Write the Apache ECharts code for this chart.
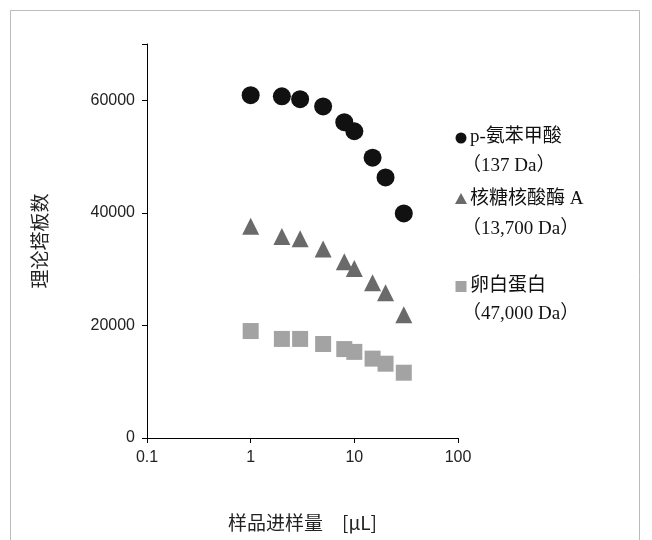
<!DOCTYPE html>
<html><head><meta charset="utf-8">
<script src="https://cdn.jsdelivr.net/npm/echarts@6/dist/echarts.min.js"></script>
<style>body{margin:0;background:#fff}#main{width:652px;height:540px}</style>
</head><body><div id="main"></div>
<script>
// 样品进样量 (μL)
const volumes = [1, 2, 3, 5, 8, 10, 15, 20, 30]
const aminobenzoic = [60900, 60700, 60200, 58900, 56100, 54500, 49800, 46300, 39900]
const ribonuclease = [37600, 35800, 35400, 33600, 31300, 30100, 27600, 25800, 21900]
const ovalbumin = [19000, 17600, 17600, 16700, 15800, 15300, 14100, 13200, 11600]

const pairs = arr => volumes.map((v, i) => [v, arr[i]])
const font = '"Noto Sans CJK SC", sans-serif'
const serif = '"Liberation Serif", "Noto Sans CJK SC", serif'
const legendText = (y, text, x) => ({ type: 'text', left: x || 470, top: y - 8,
  style: { text: text, fontSize: 19, fontFamily: serif, fill: '#111' } })

let myChart = echarts.init(document.getElementById('main'))
myChart.setOption({
  animation: false,
  grid: { left: 147, right: 194, top: 44, bottom: 102 },
  xAxis: {
    type: 'log', min: 0.1, max: 100, logBase: 10,
    axisLine: { lineStyle: { color: '#000' } },
    axisTick: { length: 5, lineStyle: { color: '#000' } },
    axisLabel: { color: '#222', fontSize: 16, fontFamily: 'Liberation Sans', margin: 12 },
    splitLine: { show: false },
    name: '样品进样量　[μL]', nameLocation: 'middle', nameGap: 75,
    nameTextStyle: { color: '#222', fontSize: 19, fontFamily: font }
  },
  yAxis: {
    type: 'value', min: 0, max: 70000, interval: 20000,
    axisLine: { show: true, lineStyle: { color: '#000' } },
    axisTick: { show: true, length: 5, lineStyle: { color: '#000' } },
    axisLabel: { color: '#222', fontSize: 16, fontFamily: 'Liberation Sans', margin: 12,
      formatter: v => v > 60000 ? '' : v },
    splitLine: { show: false },
    name: '理论塔板数', nameLocation: 'middle', nameGap: 98,
    nameTextStyle: { color: '#222', fontSize: 19, fontFamily: font }
  },
  series: [
    { type: 'scatter', data: pairs(aminobenzoic), symbol: 'circle', symbolSize: 18,
      itemStyle: { color: '#111', opacity: 1 } },
    { type: 'scatter', data: pairs(ribonuclease), symbol: 'triangle', symbolSize: 17,
      itemStyle: { color: '#6a6a6a', opacity: 1 } },
    { type: 'scatter', data: pairs(ovalbumin), symbol: 'rect', symbolSize: 16,
      itemStyle: { color: '#a3a3a3', opacity: 1 } }
  ],
  graphic: [
    { type: 'rect', shape: { x: 10.5, y: 10.5, width: 629, height: 540 }, silent: true,
      style: { fill: 'none', stroke: '#bbb', lineWidth: 1 } },
    { type: 'circle', shape: { cx: 461, cy: 138, r: 5.5 }, style: { fill: '#111' } },
    legendText(136, 'p-氨苯甲酸'),
    legendText(165, '（137 Da）', 462),
    { type: 'polygon', shape: { points: [[461, 193], [455, 204], [467, 204]] }, style: { fill: '#6a6a6a' } },
    legendText(198, '核糖核酸酶 A'),
    legendText(228, '（13,700 Da）', 462),
    { type: 'rect', shape: { x: 455.5, y: 281, width: 11, height: 11 }, style: { fill: '#a3a3a3' } },
    legendText(285, '卵白蛋白'),
    legendText(313, '（47,000 Da）', 462)
  ]
})
</script></body></html>
